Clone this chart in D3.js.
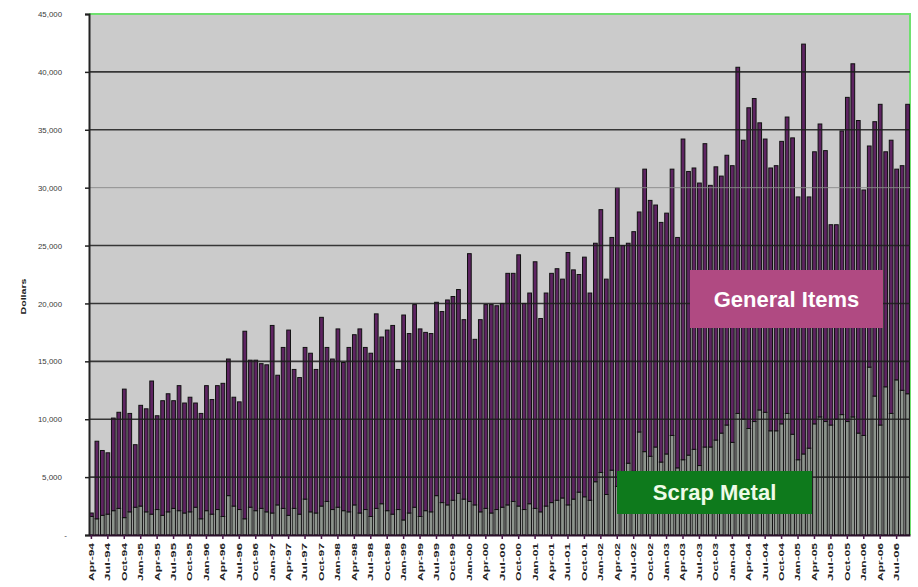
<!DOCTYPE html>
<html>
<head>
<meta charset="utf-8">
<script src="https://cdn.jsdelivr.net/npm/d3@7"></script>
<style>
  html, body { margin: 0; padding: 0; background: #ffffff; }
  svg { display: block; }
</style>
</head>
<body>
<svg id="chart" width="918" height="587"></svg>
<script>
// ---- DATA (dollars per month, Apr-94 .. Sep-06) ----
const startMonth = "1994-04";
const monthCount = 150;

const scrapMetal = [
  1600,1400,1700,1800,2100,2300,1500,2000,2400,2500,2000,1800,2200,1700,2000,2300,2100,1900,2000,2400,
  1400,2100,1800,2200,1600,3400,2500,2200,1400,2400,2100,2300,2000,1900,2600,2300,1700,2300,1800,3100,
  2000,1900,2500,2900,2200,2400,2100,2000,2600,1900,2200,1600,2300,2700,2100,1800,2200,1300,1900,2400,
  1600,2100,2000,3400,2800,2600,3000,3600,3100,2900,2600,2000,2300,1900,2200,2400,2600,2900,2500,2200,
  2700,2300,2000,2500,2800,3000,3200,2600,3100,3700,3300,3000,4600,5400,3500,5600,4200,5000,6200,5500,
  8900,7200,6800,7600,6300,7000,8600,5800,6500,6900,7400,6000,7600,7600,8200,8800,9500,8000,10500,10000,
  9200,9800,10800,10600,9000,9000,9600,10500,8700,6500,7000,7500,9600,10200,9800,9500,10000,10400,9800,10200,
  8800,8600,14500,12000,9500,12800,10500,13400,12500,12200
];

const generalItems = [
  300,6700,5600,5300,8000,8300,11100,8500,5400,8700,8900,11500,8100,9900,10200,9300,10800,9500,9900,9000,
  9100,10800,9900,10700,11500,11800,9400,9300,16200,12700,13000,12500,12700,16200,11200,13900,16000,12000,11800,13100,
  13700,12400,16300,13300,13000,15400,12800,14200,14700,15900,14000,14100,16800,14400,15600,16300,12100,17700,15500,17500,
  16200,15400,15400,16700,16500,17700,17600,17600,15500,21400,14300,16600,17600,18000,17600,17600,20000,19700,21700,17800,
  18200,21300,16700,18400,19800,20000,18900,21800,19800,18800,20700,17900,20600,22700,18600,20100,25800,20000,19000,20700,
  19000,24400,22100,20900,20700,20800,23000,19900,27700,24500,24300,24400,26200,22600,23600,22200,23300,23900,29900,24100,
  27700,27900,24800,23600,22700,22900,24400,25600,25600,22700,35400,21700,23500,25300,23400,17300,16800,24500,28000,30500,
  27000,21200,19100,23700,27700,20300,23600,18200,19400,25000
];

const yTicks = [0,5000,10000,15000,20000,25000,30000,35000,40000,45000];
const yTickLabels = ["-","5,000","10,000","15,000","20,000","25,000","30,000","35,000","40,000","45,000"];
const seriesNames = ["Scrap Metal","General Items"];
const yAxisTitle = "Dollars";

// ---- BUILD ----
const fmtMonth = d3.timeFormat("%b-%y");
const startDate = d3.timeParse("%Y-%m")(startMonth);
const months = d3.range(monthCount).map(i => fmtMonth(d3.timeMonth.offset(startDate, i)));
const tickMonths = months.filter((m, i) => i % 3 === 0);

const rows = months.map((m, i) => ({ month: m, scrap: scrapMetal[i], general: generalItems[i] }));
const stacked = d3.stack().keys(["scrap", "general"])(rows);

const svg = d3.select("#chart");
const pL = 89, pR = 910, pT = 14, pB = 535;

const x = d3.scaleBand().domain(months).range([pL, pR]).paddingInner(0.32).paddingOuter(0.1);
const y = d3.scaleLinear().domain([0, 45000]).range([pB, pT]);

// plot background
svg.append("rect").attr("x", pL).attr("y", pT).attr("width", pR - pL).attr("height", pB - pT)
  .attr("fill", "#cbcbcb");

// green plot border (top and right)
svg.append("path")
  .attr("d", `M${pL},${y(45000)}H${pR}V${pB}`)
  .attr("fill", "none").attr("stroke", "#6fe06f").attr("stroke-width", 2);

// bars
const colors = { scrap: "#8d948d", general: "#5e2462" };
svg.append("g").selectAll("g").data(stacked).join("g")
  .attr("fill", d => colors[d.key])
  .selectAll("rect").data(d => d).join("rect")
  .attr("x", d => x(d.data.month))
  .attr("width", x.bandwidth())
  .attr("y", d => y(d[1]))
  .attr("height", d => Math.max(0, y(d[0]) - y(d[1])))
  .attr("stroke", "#111")
  .attr("stroke-width", 1);

// gridlines (drawn across the bars, as in the reference)
svg.append("g").selectAll("line").data(yTicks.filter(t => t > 0 && t < 45000)).join("line")
  .attr("x1", pL).attr("x2", pR)
  .attr("y1", d => y(d)).attr("y2", d => y(d))
  .attr("stroke", d => d === 30000 ? "#8a8a8a" : "#1c1c1c")
  .attr("stroke-opacity", d => d === 30000 ? 0.9 : 0.85)
  .attr("stroke-width", d => d === 30000 ? 1 : 1.6);

// y axis
const yAxis = d3.axisLeft(y).tickValues(yTicks).tickSize(4)
  .tickFormat((d, i) => yTickLabels[i]);
const gy = svg.append("g").attr("transform", `translate(${pL},0)`).call(yAxis);
gy.select(".domain").attr("stroke", "#222").attr("stroke-width", 2);
gy.selectAll(".tick line").attr("stroke", "#222").attr("stroke-width", 1.5);
gy.selectAll(".tick text")
  .attr("x", d => d === 0 ? -22 : -27)
  .attr("font-family", "Arial, 'Liberation Sans', sans-serif")
  .attr("font-size", 8).attr("fill", "#3a3a3a")
  .attr("textLength", d => d === 0 ? null : (d >= 10000 ? 24 : 20))
  .attr("lengthAdjust", "spacingAndGlyphs");

// x axis
const xAxis = d3.axisBottom(x).tickValues(tickMonths).tickSize(4).tickSizeOuter(0);
const gx = svg.append("g").attr("transform", `translate(0,${pB})`).call(xAxis);
gx.select(".domain").attr("stroke", "#2a0f2a").attr("stroke-width", 2);
gx.selectAll(".tick line").attr("stroke", "#4a1a4a").attr("stroke-width", 1.5);
gx.selectAll(".tick text")
  .attr("transform", "rotate(-90)")
  .attr("x", -8).attr("y", 0).attr("dy", "0.35em")
  .attr("text-anchor", "end")
  .attr("font-family", "Arial, 'Liberation Sans', sans-serif")
  .attr("font-weight", "bold")
  .attr("font-size", 7).attr("fill", "#222")
  .attr("textLength", 38).attr("lengthAdjust", "spacingAndGlyphs");

// y axis title
svg.append("text")
  .attr("transform", `translate(26,${(pT + pB) / 2 + 22}) rotate(-90)`)
  .attr("text-anchor", "middle")
  .attr("font-family", "Arial, 'Liberation Sans', sans-serif")
  .attr("font-weight", "bold").attr("font-size", 7).attr("fill", "#222")
  .attr("textLength", 36).attr("lengthAdjust", "spacingAndGlyphs")
  .text(yAxisTitle);

// series label boxes
const boxes = [
  { name: seriesNames[1], x0: 690, x1: 883, y0: 270, y1: 328, fill: "#b04a82", text: "#ffffff" },
  { name: seriesNames[0], x0: 617, x1: 812, y0: 471, y1: 514, fill: "#0e7a1c", text: "#eefbe8" }
];
const gb = svg.append("g").selectAll("g").data(boxes).join("g");
gb.append("rect")
  .attr("x", d => d.x0).attr("y", d => d.y0)
  .attr("width", d => d.x1 - d.x0).attr("height", d => d.y1 - d.y0)
  .attr("fill", d => d.fill);
gb.append("text")
  .attr("x", d => (d.x0 + d.x1) / 2).attr("y", d => (d.y0 + d.y1) / 2)
  .attr("dy", "0.36em").attr("text-anchor", "middle")
  .attr("font-family", "Arial, 'Liberation Sans', sans-serif")
  .attr("font-weight", "bold").attr("font-size", 22)
  .attr("fill", d => d.text)
  .text(d => d.name);
</script>
</body>
</html>
